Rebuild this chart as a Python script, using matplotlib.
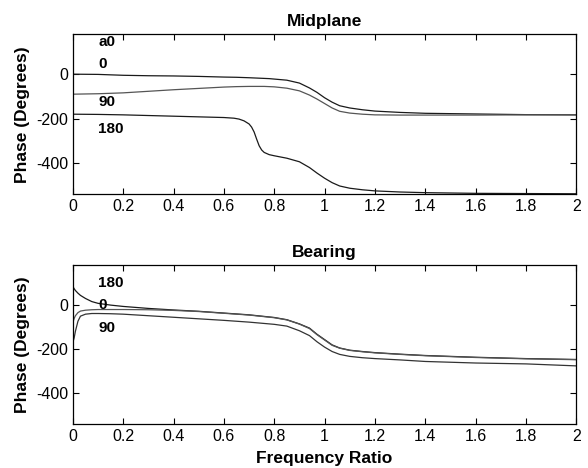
import numpy as np
import matplotlib
matplotlib.use("Agg")
import matplotlib.pyplot as plt

plt.rcParams['font.family'] = ['Liberation Sans', 'DejaVu Sans']
plt.rcParams['axes.unicode_minus'] = False

# Midplane phase curves
x_mid = [0, 0.1, 0.2, 0.3, 0.4, 0.5, 0.6, 0.65, 0.7, 0.72, 0.74, 0.76, 0.78, 0.8,
         0.85, 0.9, 0.94, 0.97, 1.0, 1.03, 1.06, 1.1, 1.15, 1.2, 1.3, 1.4, 1.6, 1.8, 2.0]
mid_0 = [0, -1, -5, -7, -8, -10, -13, -14, -16, -17, -18, -19, -20, -22,
         -27, -40, -62, -82, -106, -126, -142, -152, -160, -166, -172, -176, -179, -182, -183]
mid_90 = [-90, -88, -84, -77, -70, -64, -58, -56, -55, -55, -55, -55, -56, -57,
          -63, -75, -94, -112, -132, -152, -167, -175, -180, -183, -184, -184, -184, -183, -183]
x_mid180 = [0, 0.1, 0.2, 0.3, 0.4, 0.5, 0.6, 0.64, 0.66, 0.68, 0.7, 0.71, 0.72, 0.73,
            0.74, 0.75, 0.76, 0.78, 0.8, 0.85, 0.9, 0.94, 0.97, 1.0, 1.03, 1.06, 1.1,
            1.15, 1.2, 1.3, 1.4, 1.6, 1.8, 2.0]
mid_180 = [-180, -181, -183, -186, -189, -192, -195, -198, -202, -210, -224, -238, -260, -292,
           -322, -341, -352, -362, -367, -378, -394, -420, -445, -468, -488, -503, -513,
           -520, -525, -530, -533, -536, -537, -538]

# Bearing phase curves
x_brg = [0, 0.005, 0.01, 0.02, 0.03, 0.05, 0.075, 0.1, 0.15, 0.2, 0.3, 0.4, 0.5, 0.6, 0.7,
         0.8, 0.85, 0.9, 0.94, 0.97, 1.0, 1.03, 1.06, 1.1, 1.15, 1.2, 1.3, 1.4, 1.6, 1.8, 2.0]
brg_180 = [82, 72, 64, 52, 42, 28, 14, 6, -2, -8, -17, -24, -30, -38, -46,
           -58, -68, -87, -106, -134, -158, -182, -196, -206, -212, -217, -224, -230, -238, -244, -248]
brg_0 = [-80, -62, -50, -36, -29, -25, -23, -22, -22, -22, -23, -26, -31, -39, -47,
         -59, -69, -88, -108, -136, -160, -184, -197, -207, -213, -218, -225, -231, -239, -245, -249]
brg_90 = [-170, -150, -120, -75, -52, -43, -40, -40, -41, -43, -50, -57, -64, -71, -79,
          -89, -97, -118, -140, -168, -192, -212, -225, -234, -240, -244, -250, -257, -264, -268, -277]

xticks = np.arange(0, 2.01, 0.2)
xticklabels = ['0', '0.2', '0.4', '0.6', '0.8', '1', '1.2', '1.4', '1.6', '1.8', '2']
yticks = [-400, -200, 0]

fig = plt.figure(figsize=(5.88, 4.68), dpi=100)
ax1 = fig.add_axes([0.124, 0.585, 0.856, 0.342])
ax2 = fig.add_axes([0.124, 0.094, 0.856, 0.340])

ax1.plot(x_mid, mid_0, color='#1a1a1a', lw=0.9)
ax1.plot(x_mid, mid_90, color='#555555', lw=0.9)
ax1.plot(x_mid180, mid_180, color='#1a1a1a', lw=0.9)
ax1.text(0.1, 145, 'a0', fontsize=11, fontweight='bold', va='center')
ax1.text(0.1, 48, '0', fontsize=11, fontweight='bold', va='center')
ax1.text(0.1, -124, '90', fontsize=11, fontweight='bold', va='center')
ax1.text(0.1, -245, '180', fontsize=11, fontweight='bold', va='center')
ax1.set_title('Midplane', fontsize=12.5, fontweight='bold', pad=6)

ax2.plot(x_brg, brg_180, color='#1a1a1a', lw=0.9)
ax2.plot(x_brg, brg_0, color='#555555', lw=0.9)
ax2.plot(x_brg, brg_90, color='#333333', lw=0.9)
ax2.text(0.1, 96, '180', fontsize=11, fontweight='bold', va='center')
ax2.text(0.1, 0, '0', fontsize=11, fontweight='bold', va='center')
ax2.text(0.1, -106, '90', fontsize=11, fontweight='bold', va='center')
ax2.set_title('Bearing', fontsize=12.5, fontweight='bold', pad=6)
ax2.set_xlabel('Frequency Ratio', fontsize=12.5, fontweight='bold', labelpad=5)

for ax in (ax1, ax2):
    ax.set_xlim(0, 2)
    ax.set_ylim(-540, 180)
    ax.set_xticks(xticks)
    ax.set_xticklabels(xticklabels)
    ax.set_yticks(yticks)
    ax.tick_params(direction='in', top=True, right=True, labelsize=11.5, length=4, width=0.8)
    ax.set_ylabel('Phase (Degrees)', fontsize=12.5, fontweight='bold', labelpad=4)
    for s in ax.spines.values():
        s.set_linewidth(0.9)

fig.savefig('out.png', dpi=100)
